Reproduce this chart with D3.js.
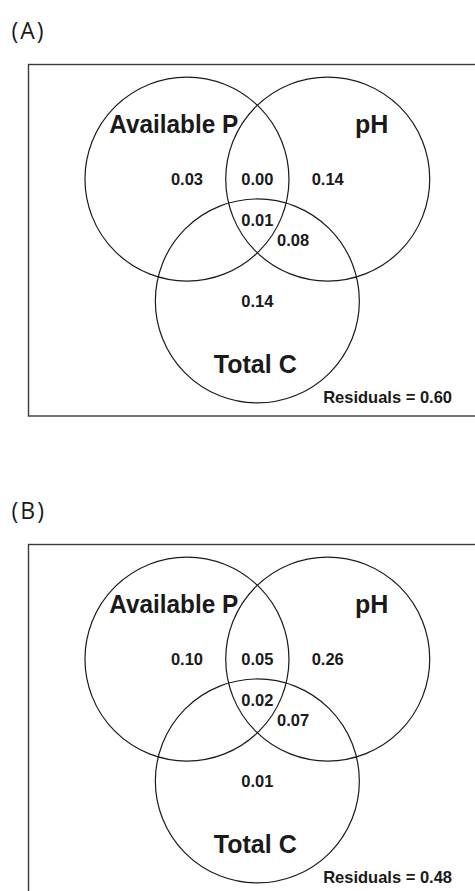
<!DOCTYPE html>
<html>
<head>
<meta charset="utf-8">
<script src="https://cdn.jsdelivr.net/npm/d3@7"></script>
<style>
  html, body { margin: 0; padding: 0; background: #fff; }
  svg { display: block; }
</style>
</head>
<body>
<svg id="chart" width="475" height="891"></svg>
<script>
// Variance partitioning of three soil properties, two panels
const panels = ["(A)", "(B)"];
const sets = ["Available P", "pH", "Total C"];
// Region order: P only, P∩pH, pH only, P∩pH∩C, pH∩C, C only
const regions = ["P", "P&pH", "pH", "P&pH&C", "pH&C", "C"];
const valuesA = [0.03, 0.00, 0.14, 0.01, 0.08, 0.14];
const valuesB = [0.10, 0.05, 0.26, 0.02, 0.07, 0.01];
const residuals = [0.60, 0.48];
const panelValues = [valuesA, valuesB];

const svg = d3.select("#chart");
const ink = "#1a1a1a";

// Geometry in units of the circle radius, origin at the centroid of the three centres
const sep = 1.38; // distance between circle centres
const h = sep * Math.sqrt(3) / 2;
const centres = [
  { x: -sep / 2, y: -h / 3 },
  { x:  sep / 2, y: -h / 3 },
  { x: 0,        y: 2 * h / 3 }
];
// Label anchors for the sets and the regions (text baselines)
const setAnchors = [
  { x: -0.82, y: -0.85, w: 129 },
  { x:  1.12, y: -0.85, w: null },
  { x: -0.02, y:  1.50, w: null }
];
const regionAnchors = {
  "P":      { x: -0.69, y: -0.34 },
  "P&pH":   { x:  0.00, y: -0.34 },
  "pH":     { x:  0.69, y: -0.34 },
  "P&pH&C": { x:  0.00, y:  0.06 },
  "pH&C":   { x:  0.35, y:  0.26 },
  "C":      { x:  0.00, y:  0.86 }
};

const radiusPx = 102;
const panelStep = 480;
const fmt = d3.format(".2f");

panels.forEach((title, i) => {
  const top = i * panelStep;
  const g = svg.append("g");

  const cx = 257.35, cy = 219.7 + top;
  const x = d3.scaleLinear().domain([-1, 1]).range([cx - radiusPx, cx + radiusPx]);
  const y = d3.scaleLinear().domain([-1, 1]).range([cy - radiusPx, cy + radiusPx]);

  g.append("text")
    .attr("x", 11.5).attr("y", 38.5 + top)
    .attr("font-family", "'Open Sans', sans-serif")
    .attr("font-size", 23)
    .attr("letter-spacing", 2)
    .attr("fill", ink)
    .text(title);

  // Frame (its right edge runs past the page)
  g.append("rect")
    .attr("x", 28.5).attr("y", 64.5 + top)
    .attr("width", 470).attr("height", 351.5)
    .attr("fill", "none")
    .attr("stroke", "#3a3a3a")
    .attr("stroke-width", 1.4);

  g.selectAll("circle")
    .data(centres)
    .join("circle")
    .attr("cx", d => x(d.x))
    .attr("cy", d => y(d.y))
    .attr("r", x(1) - x(0))
    .attr("fill", "none")
    .attr("stroke", ink)
    .attr("stroke-width", 1.2);

  g.selectAll("text.set")
    .data(sets)
    .join("text")
    .attr("class", "set")
    .attr("x", (d, k) => x(setAnchors[k].x))
    .attr("y", (d, k) => y(setAnchors[k].y))
    .attr("text-anchor", "middle")
    .attr("font-family", "'Liberation Sans', Arial, sans-serif")
    .attr("font-weight", "bold")
    .attr("font-size", 25)
    .attr("fill", ink)
    .each(function (d, k) {
      if (setAnchors[k].w) {
        d3.select(this).attr("textLength", setAnchors[k].w).attr("lengthAdjust", "spacingAndGlyphs");
      }
    })
    .text(d => d);

  g.selectAll("text.val")
    .data(regions.map((r, k) => ({ r, v: panelValues[i][k] })))
    .join("text")
    .attr("class", "val")
    .attr("x", d => x(regionAnchors[d.r].x))
    .attr("y", d => y(regionAnchors[d.r].y))
    .attr("text-anchor", "middle")
    .attr("font-family", "'Liberation Sans', Arial, sans-serif")
    .attr("font-weight", "bold")
    .attr("font-size", 16.5)
    .attr("fill", ink)
    .text(d => fmt(d.v));

  g.append("text")
    .attr("x", 452).attr("y", 402.5 + top)
    .attr("text-anchor", "end")
    .attr("font-family", "'Liberation Sans', Arial, sans-serif")
    .attr("font-weight", "bold")
    .attr("font-size", 16.5)
    .attr("fill", ink)
    .text("Residuals = " + fmt(residuals[i]));
});
</script>
</body>
</html>
